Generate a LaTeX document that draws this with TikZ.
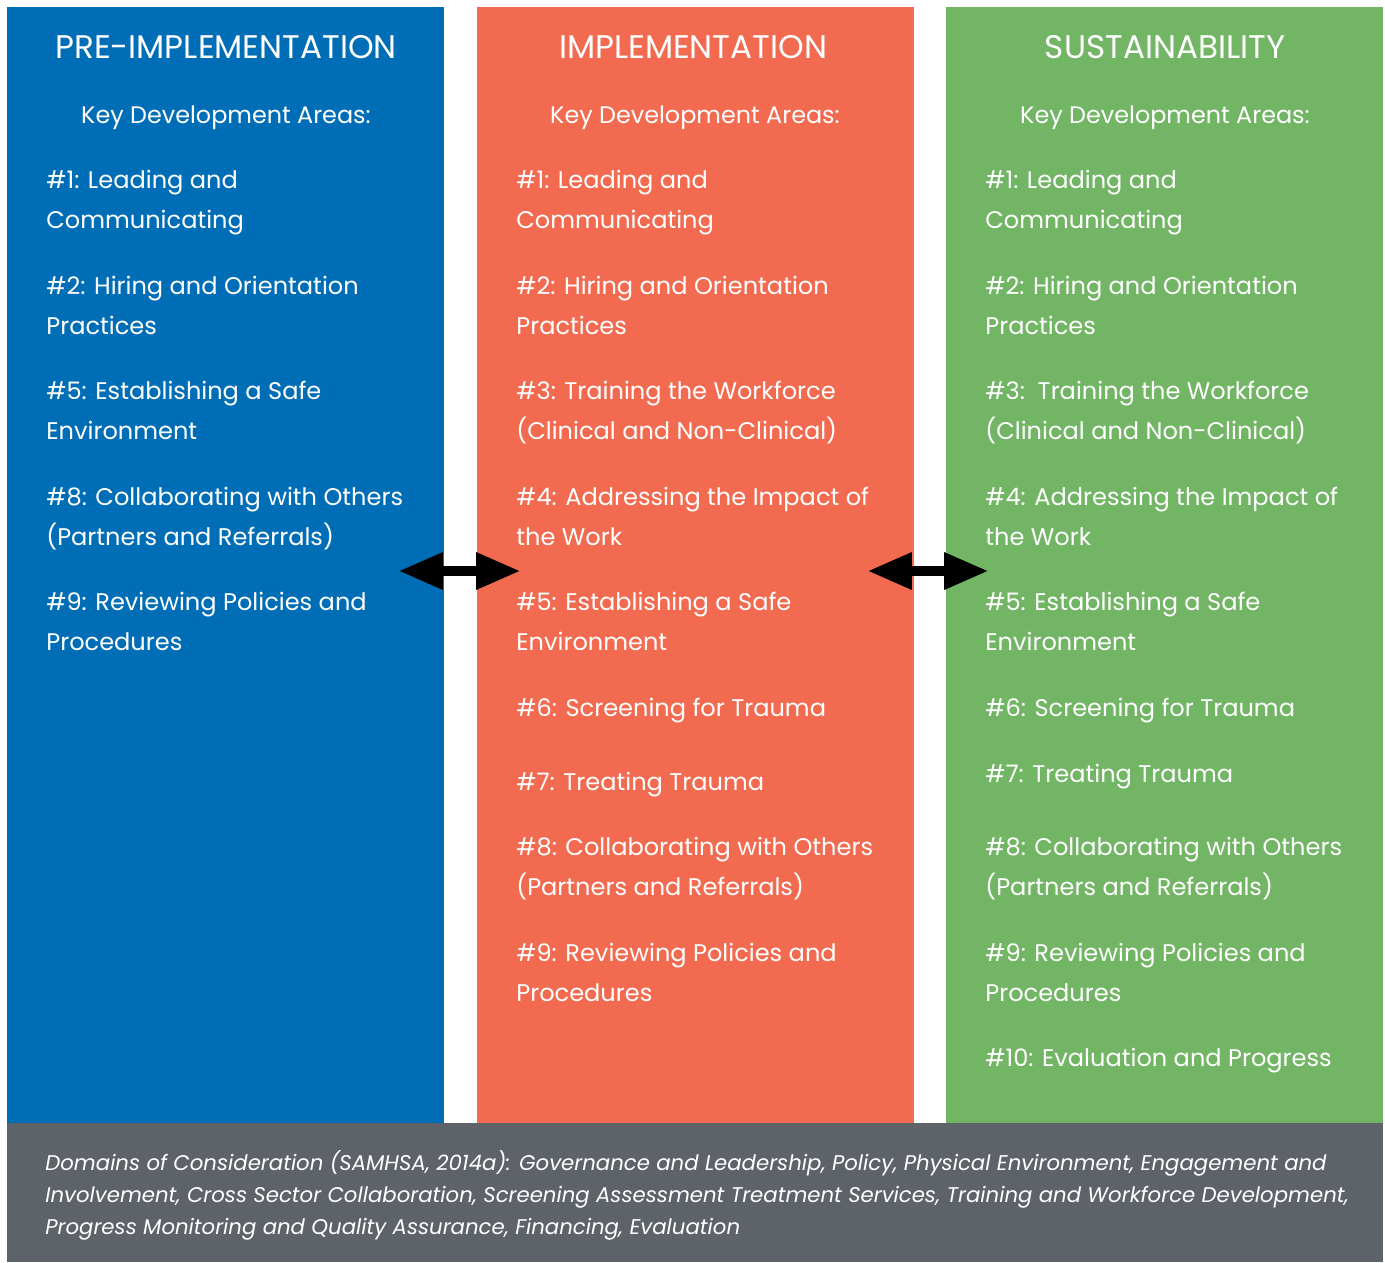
\documentclass[tikz,border=0pt]{standalone}
\usepackage{fontspec}
\setmainfont{Poppins}
\usetikzlibrary{arrows.meta}
\definecolor{preblue}{RGB}{0,110,183}
\definecolor{implorange}{RGB}{242,107,80}
\definecolor{sustgreen}{RGB}{114,181,101}
\definecolor{footgrey}{RGB}{94,99,106}

\begin{document}
\begin{tikzpicture}[x=0.02cm,y=-0.02cm,
  phase/.style={anchor=base,text=white,inner sep=0pt,font=\fontsize{18.6}{22}\selectfont},
  keys/.style={anchor=base,text=white,inner sep=0pt,font=\fontsize{13.6}{16}\selectfont},
  area/.style={anchor=base west,align=left,text=white,inner sep=0pt,font=\fontsize{13.7}{22.7}\selectfont},
  link/.style={line width=6.2pt,{Triangle[length=25.5pt,width=19.5pt]}-{Triangle[length=25.5pt,width=19.5pt]}}
]
\fill[white] (0,0) rectangle (1385,1262);
\useasboundingbox (0,0) rectangle (1385,1262);
% the three phases
\fill[preblue] (7,7) rectangle (444,1123);
\fill[implorange] (477,7) rectangle (914,1123);
\fill[sustgreen] (946,7) rectangle (1383,1123);
\fill[footgrey] (7,1123) rectangle (1383,1262);

\node (PH1) [phase] at (226,58) {PRE-IMPLEMENTATION};
\node (PH2) [phase] at (693,58) {IMPLEMENTATION};
\node (PH3) [phase] at (1165,58) {SUSTAINABILITY};
\node (K1) [keys] at (226,123) {Key Development Areas:};
\node (K2) [keys] at (695,123) {Key Development Areas:};
\node (K3) [keys] at (1165,123) {Key Development Areas:};

% pre-implementation (two-line nodes sit on their last baseline)
\node (P1) [area] at (46,228) {\#1: Leading and\\Communicating};
\node (P2) [area] at (46,334) {\#2: Hiring and Orientation\\Practices};
\node (P5) [area] at (46,439) {\#5: Establishing a Safe\\Environment};
\node (P8) [area] at (46,545) {\#8: Collaborating with Others\\(Partners and Referrals)};
\node (P9) [area] at (46,650) {\#9: Reviewing Policies and\\Procedures};

% implementation
\node (I1) [area] at (516,228) {\#1: Leading and\\Communicating};
\node (I2) [area] at (516,334) {\#2: Hiring and Orientation\\Practices};
\node (I3) [area] at (516,439) {\#3: Training the Workforce\\(Clinical and Non-Clinical)};
\node (I4) [area] at (516,545) {\#4: Addressing the Impact of\\the Work};
\node (I5) [area] at (516,650) {\#5: Establishing a Safe\\Environment};
\node (I6) [area] at (516,716) {\#6: Screening for Trauma};
\node (I7) [area] at (516,790) {\#7: Treating Trauma};
\node (I8) [area] at (516,895) {\#8: Collaborating with Others\\(Partners and Referrals)};
\node (I9) [area] at (516,1001) {\#9: Reviewing Policies and\\Procedures};

% sustainability
\node (S1) [area] at (985,228) {\#1: Leading and\\Communicating};
\node (S2) [area] at (985,334) {\#2: Hiring and Orientation\\Practices};
\node (S3) [area] at (985,439) {\#3:\ \ Training the Workforce\\(Clinical and Non-Clinical)};
\node (S4) [area] at (985,545) {\#4: Addressing the Impact of\\the Work};
\node (S5) [area] at (985,650) {\#5: Establishing a Safe\\Environment};
\node (S6) [area] at (985,716) {\#6: Screening for Trauma};
\node (S7) [area] at (985,782) {\#7: Treating Trauma};
\node (S8) [area] at (985,895) {\#8: Collaborating with Others\\(Partners and Referrals)};
\node (S9) [area] at (985,1001) {\#9: Reviewing Policies and\\Procedures};
\node (S10) [area] at (985,1066) {\#10: Evaluation and Progress};

% arrows between the phases
\coordinate (A1) at (398,571);
\coordinate (B1) at (521,571);
\coordinate (A2) at (867,571);
\coordinate (B2) at (989,571);
\draw[link] (A1) -- (B1);
\draw[link] (A2) -- (B2);

\node (DOM) [anchor=base west,align=left,text=white,inner sep=0pt,font=\fontsize{12.1}{18.1}\selectfont\itshape] at (45,1234)
{Domains of Consideration (SAMHSA, 2014a): Governance and Leadership, Policy, Physical Environment, Engagement and\\
Involvement, Cross Sector Collaboration, Screening Assessment Treatment Services, Training and Workforce Development,\\
Progress Monitoring and Quality Assurance, Financing, Evaluation};
\end{tikzpicture}
\end{document}
